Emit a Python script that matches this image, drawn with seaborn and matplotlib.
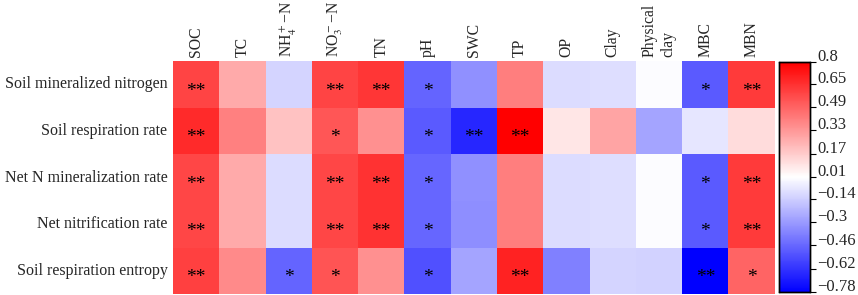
import numpy as np
import pandas as pd
import matplotlib
matplotlib.use("Agg")
import matplotlib.pyplot as plt
import matplotlib.transforms as mtransforms
import seaborn as sns
from matplotlib.colors import LinearSegmentedColormap

rows = ["Soil mineralized nitrogen", "Soil respiration rate",
        "Net N mineralization rate", "Net nitrification rate",
        "Soil respiration entropy"]
cols = ["SOC", "TC", r"NH$_4^+$−N", r"NO$_3^-$−N", "TN", "pH", "SWC", "TP",
        "OP", "Clay", "Physical\nclay", "MBC", "MBN"]

r_min_n = [0.59, 0.27, -0.12, 0.59, 0.63, -0.47, -0.33, 0.41, -0.10, -0.09, 0.00, -0.50, 0.62]
r_resp = [0.67, 0.40, 0.20, 0.53, 0.35, -0.50, -0.66, 0.80, 0.09, 0.29, -0.27, -0.07, 0.12]
r_net_min = [0.58, 0.27, -0.10, 0.58, 0.64, -0.46, -0.33, 0.41, -0.10, -0.09, 0.00, -0.50, 0.62]
r_nitri = [0.58, 0.27, -0.10, 0.58, 0.64, -0.46, -0.34, 0.41, -0.10, -0.09, 0.00, -0.50, 0.62]
r_entropy = [0.60, 0.37, -0.47, 0.54, 0.35, -0.53, -0.27, 0.69, -0.38, -0.12, -0.13, -0.78, 0.49]

s_min_n = ["**", "", "", "**", "**", "*", "", "", "", "", "", "*", "**"]
s_resp = ["**", "", "", "*", "", "*", "**", "**", "", "", "", "", ""]
s_net_min = ["**", "", "", "**", "**", "*", "", "", "", "", "", "*", "**"]
s_nitri = ["**", "", "", "**", "**", "*", "", "", "", "", "", "*", "**"]
s_entropy = ["**", "", "*", "*", "", "*", "", "**", "", "", "", "**", "*"]

cbar_ticks = [0.8, 0.65, 0.49, 0.33, 0.17, 0.01, -0.14, -0.3, -0.46, -0.62, -0.78]

corr = pd.DataFrame([r_min_n, r_resp, r_net_min, r_nitri, r_entropy],
                    index=rows, columns=cols)
sig = np.array([s_min_n, s_resp, s_net_min, s_nitri, s_entropy])

sns.set_theme(style="white")
plt.rcParams["font.family"] = ["Liberation Serif", "DejaVu Serif"]
plt.rcParams["mathtext.fontset"] = "stix"

cmap = LinearSegmentedColormap.from_list("bwr_", ["#0000ff", "#ffffff", "#ff0000"])

fig = plt.figure(figsize=(8.58, 2.95), dpi=100)
ax = fig.add_axes([0.2016, 0.003, 0.7014, 0.790])
cax = fig.add_axes([0.908, 0.010, 0.036, 0.780])

sns.heatmap(corr, ax=ax, cbar_ax=cax, cmap=cmap, vmin=-0.78, vmax=0.8,
            annot=sig, fmt="", annot_kws=dict(color="black", fontsize=14),
            linewidths=0)

# asterisks sit high in the font, push them down to the cell centre
down = mtransforms.ScaledTranslation(0, -5 / 72, fig.dpi_scale_trans)
for t in ax.texts:
    t.set_transform(t.get_transform() + down)

ax.xaxis.tick_top()
ax.set_xticklabels(cols, rotation=90, fontsize=11.3, va="bottom",
                   ha="center", multialignment="left")
ax.set_yticklabels(rows, rotation=0, fontsize=11.5)
ax.tick_params(axis="x", length=0, pad=3)
ax.tick_params(axis="y", length=0, pad=4)
ax.set_xlabel("")
ax.set_ylabel("")

cax.set_yticks(cbar_ticks)
cax.set_yticklabels([f"{t:g}".replace("-", "−") for t in cbar_ticks])
cax.tick_params(labelsize=12, length=4, width=0.8, color="black", pad=1)
# labels a little higher so the bottom one stays inside the figure
shift = mtransforms.ScaledTranslation(0, 5 / 72, fig.dpi_scale_trans)
for lab in cax.get_yticklabels():
    lab.set_transform(lab.get_transform() + shift)
for sp in cax.spines.values():
    sp.set_visible(True)
    sp.set_color("black")
    sp.set_linewidth(1.0)

fig.savefig("out.png", dpi=100)
